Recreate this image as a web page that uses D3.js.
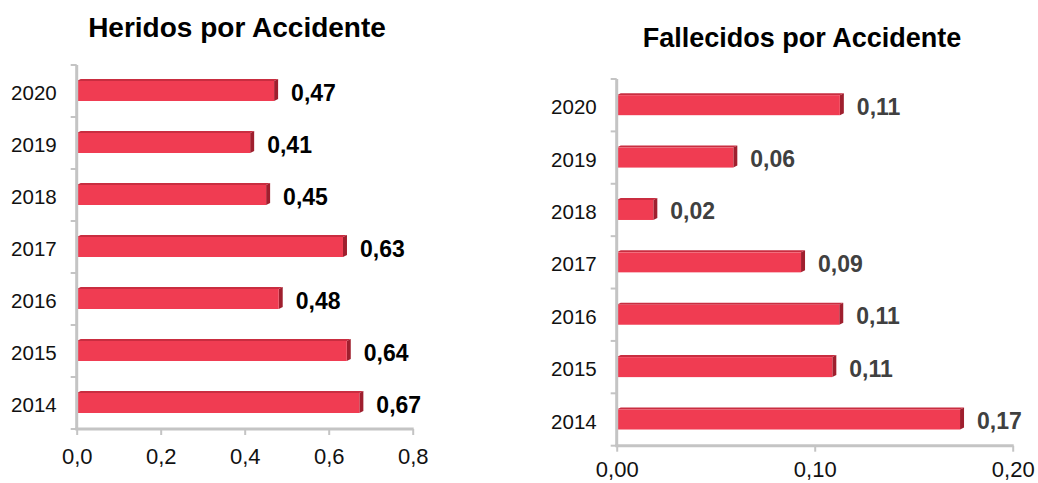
<!DOCTYPE html>
<html>
<head>
<meta charset="utf-8">
<script src="https://cdn.jsdelivr.net/npm/d3@7"></script>
<style>
  html, body { margin: 0; padding: 0; background: #fff; }
  svg { display: block; font-family: "Liberation Sans", Arial, sans-serif; }
</style>
</head>
<body>
<svg id="chart" width="1038" height="483"></svg>
<script>
// data
const years = ['2020', '2019', '2018', '2017', '2016', '2015', '2014'];
const heridos = [0.47, 0.413, 0.451, 0.634, 0.481, 0.643, 0.673];
const fallecidos = [0.1127, 0.0589, 0.0185, 0.0931, 0.1124, 0.1089, 0.1734];
const heridosTicks = [0, 0.2, 0.4, 0.6, 0.8];
const fallecidosTicks = [0, 0.1, 0.2];

const locale = d3.formatLocale({decimal: ',', thousands: '.', grouping: [3], currency: ['', '€']});

const svg = d3.select('#chart');

const FRONT = '#f03c52',
  TOP = '#c92d40',
  SIDE = '#9f1f2e',
  AXIS = '#c4c4c4';

function drawChart(opts) {
  const g = svg.append('g');

  const x = d3.scaleLinear().domain(opts.domain).range([opts.left, opts.right]);
  const y = d3.scaleBand().domain(years).range([opts.top, opts.bottom]);
  const bh = 20, dx = 4, dy = 2;

  // title
  g.append('text')
    .attr('x', opts.titleX)
    .attr('y', opts.titleY)
    .attr('text-anchor', 'middle')
    .style('font-size', opts.titleSize)
    .style('font-weight', 'bold')
    .style('fill', '#000')
    .text(opts.title);

  // bars (little 3d look: front, top, side)
  const bars = g.append('g').selectAll('g')
    .data(opts.values)
    .enter().append('g');

  const yc = (d, i) => y(years[i]) + y.bandwidth() / 2;

  bars.append('polygon')
    .attr('fill', TOP)
    .attr('points', (d, i) => {
      const t = yc(d, i) - bh / 2, x0 = x(0), x1 = x(d);
      return `${x0},${t} ${x0 + dx},${t - dy} ${x1 + dx},${t - dy} ${x1},${t}`;
    });
  bars.append('polygon')
    .attr('fill', SIDE)
    .attr('points', (d, i) => {
      const t = yc(d, i) - bh / 2, x1 = x(d);
      return `${x1},${t} ${x1 + dx},${t - dy} ${x1 + dx},${t + bh - dy} ${x1},${t + bh}`;
    });
  bars.append('rect')
    .attr('fill', FRONT)
    .attr('x', x(0))
    .attr('y', (d, i) => yc(d, i) - bh / 2)
    .attr('width', d => x(d) - x(0))
    .attr('height', bh);

  // value labels
  g.append('g').selectAll('text')
    .data(opts.values)
    .enter().append('text')
    .attr('x', d => x(d) + 17)
    .attr('y', (d, i) => yc(d, i) + 9.5)
    .style('font-size', '23px')
    .style('font-weight', 'bold')
    .style('fill', opts.labelColor)
    .text(d => locale.format('.2f')(d));

  // x axis
  const xa = g.append('g')
    .attr('transform', `translate(0,${opts.bottom})`)
    .call(d3.axisBottom(x).tickValues(opts.ticks).tickSize(6).tickPadding(opts.xPad)
      .tickFormat(locale.format(opts.tickFmt)));
  xa.select('.domain').remove();
  xa.selectAll('.tick line').attr('stroke', AXIS).attr('stroke-width', 2);
  xa.selectAll('.tick text')
    .style('font-size', '22px')
    .style('font-family', '"Liberation Sans", Arial, sans-serif')
    .style('fill', '#111');

  // y axis, ticks on the band edges
  const ya = g.append('g')
    .attr('transform', `translate(${x(0)},0)`)
    .call(d3.axisLeft(y).tickSize(0).tickPadding(20));
  ya.select('.domain').remove();
  ya.selectAll('.tick text')
    .attr('dy', null)
    .attr('y', 9)
    .style('font-size', '20.5px')
    .style('font-family', '"Liberation Sans", Arial, sans-serif')
    .style('fill', '#111');

  const edges = years.map(yr => y(yr)).concat([opts.bottom]);
  g.append('g').selectAll('line')
    .data(edges)
    .enter().append('line')
    .attr('x1', x(0) - 6).attr('x2', x(0))
    .attr('y1', d => d).attr('y2', d => d)
    .attr('stroke', AXIS).attr('stroke-width', 2);

  g.append('line')
    .attr('x1', x(0)).attr('x2', x(0))
    .attr('y1', opts.top).attr('y2', opts.bottom)
    .attr('stroke', AXIS).attr('stroke-width', 3);
  g.append('line')
    .attr('x1', x(0) - 1.5).attr('x2', opts.right + 1)
    .attr('y1', opts.bottom).attr('y2', opts.bottom)
    .attr('stroke', AXIS).attr('stroke-width', 3);
}

drawChart({
  title: 'Heridos por Accidente', titleX: 237, titleY: 37, titleSize: '28px',
  values: heridos, domain: [0, 0.8], ticks: heridosTicks, tickFmt: '.1f', xPad: 13,
  left: 76.7, right: 412.7, top: 65, bottom: 429,
  labelColor: '#000'
});

drawChart({
  title: 'Fallecidos por Accidente', titleX: 802, titleY: 47, titleSize: '27px',
  values: fallecidos, domain: [0, 0.2], ticks: fallecidosTicks, tickFmt: '.2f', xPad: 10,
  left: 616.7, right: 1012.7, top: 79, bottom: 445.7,
  labelColor: '#404040'
});
</script>
</body>
</html>
